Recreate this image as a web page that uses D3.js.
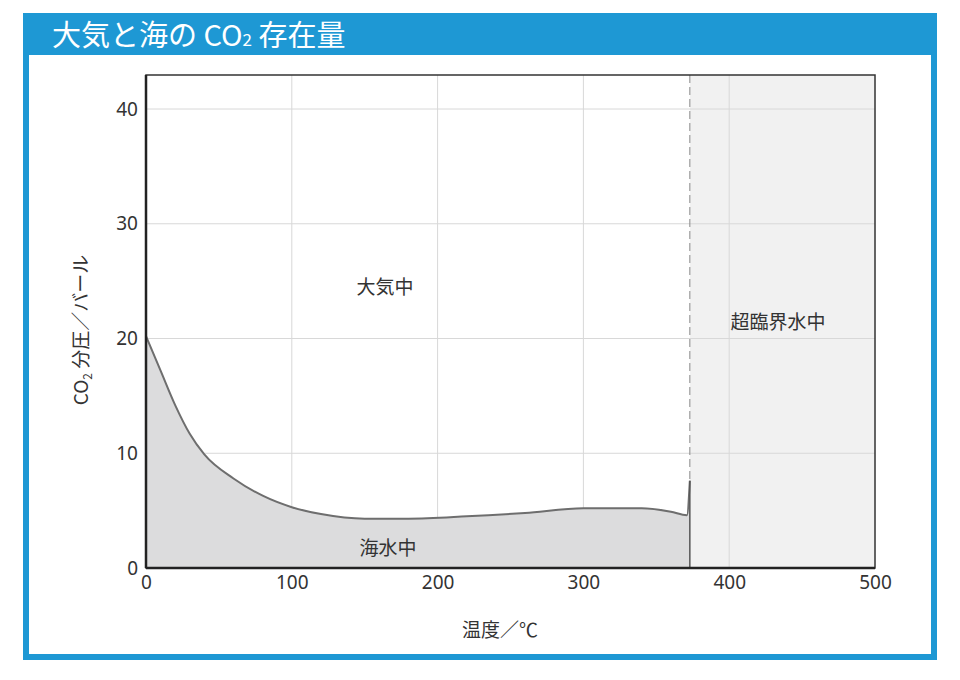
<!DOCTYPE html>
<html><head><meta charset="utf-8">
<script src="https://cdn.jsdelivr.net/npm/d3@7"></script>
<style>body{margin:0;background:#fff;font-family:"Noto Sans CJK JP","Noto Sans",sans-serif;}</style>
</head><body>
<script>
// temperature (°C) and CO2 partial pressure (bar) in seawater
const temps = [0, 10, 20, 30, 40, 60, 80, 100, 120, 150, 180, 220, 260, 300, 340, 360, 371, 373];
const pressures = [20.2, 17.2, 14.2, 11.7, 9.9, 7.8, 6.3, 5.3, 4.7, 4.3, 4.3, 4.5, 4.8, 5.2, 5.2, 4.9, 4.6, 7.6];
const xTicks = [0, 100, 200, 300, 400, 500];
const yTicks = [0, 10, 20, 30, 40];
const critical = 373;

const svg = d3.select('body').append('svg').attr('width', 960).attr('height', 680);

// blue frame with title band
svg.append('rect').attr('x', 23).attr('y', 13).attr('width', 914).attr('height', 647).attr('fill', '#1e98d4');
svg.append('rect').attr('x', 29).attr('y', 55).attr('width', 902).attr('height', 599).attr('fill', '#fff');
const title = svg.append('text').attr('x', 52).attr('y', 46).attr('fill', '#fff')
  .attr('font-size', 29).attr('font-family', '"Noto Sans CJK JP",sans-serif');
title.append('tspan').text('大気と海の CO');
title.append('tspan').attr('font-size', 17).text('2');
title.append('tspan').text(' 存在量');

const x = d3.scaleLinear().domain([0, 500]).range([146, 875]);
const y = d3.scaleLinear().domain([0, 40]).range([568, 109]);
const plotTop = 75;

svg.append('rect').attr('x', x(critical)).attr('y', plotTop).attr('width', x(500) - x(critical))
  .attr('height', y(0) - plotTop).attr('fill', '#f1f1f1');

// grid
svg.selectAll('.vg').data(xTicks.slice(1, -1)).enter().append('line')
  .attr('x1', d => x(d)).attr('x2', d => x(d)).attr('y1', plotTop).attr('y2', y(0))
  .attr('stroke', '#d8d8d8');
svg.selectAll('.hg').data(yTicks.slice(1)).enter().append('line')
  .attr('x1', x(0)).attr('x2', x(500)).attr('y1', d => y(d)).attr('y2', d => y(d))
  .attr('stroke', '#d8d8d8');

const pts = temps.map((t, i) => [t, pressures[i]]);
const area = d3.area().x(d => x(d[0])).y0(y(0)).y1(d => y(d[1])).curve(d3.curveMonotoneX);
svg.append('path').datum(pts).attr('d', area).attr('fill', '#dcdcdd');
const line = d3.line().x(d => x(d[0])).y(d => y(d[1])).curve(d3.curveMonotoneX);
svg.append('path').datum(pts).attr('d', line).attr('fill', 'none').attr('stroke', '#6e6e6e').attr('stroke-width', 2);
svg.append('line').attr('x1', x(critical)).attr('x2', x(critical)).attr('y1', y(pressures[pressures.length - 1]))
  .attr('y2', y(0)).attr('stroke', '#555').attr('stroke-width', 1.5);
svg.append('line').attr('x1', x(critical)).attr('x2', x(critical)).attr('y1', plotTop)
  .attr('y2', y(pressures[pressures.length - 1])).attr('stroke', '#888').attr('stroke-dasharray', '8,4');

// frame
svg.append('rect').attr('x', x(0)).attr('y', plotTop).attr('width', x(500) - x(0)).attr('height', y(0) - plotTop)
  .attr('fill', 'none').attr('stroke', '#333').attr('stroke-width', 1.5);
svg.append('line').attr('x1', x(0)).attr('x2', x(500)).attr('y1', y(0)).attr('y2', y(0)).attr('stroke', '#222').attr('stroke-width', 2.5);
svg.append('line').attr('x1', x(0)).attr('x2', x(0)).attr('y1', plotTop).attr('y2', y(0)).attr('stroke', '#222').attr('stroke-width', 2.5);

const xa = svg.append('g').attr('transform', `translate(0,${y(0)})`)
  .call(d3.axisBottom(x).tickValues(xTicks).tickSize(0).tickPadding(8));
xa.select('.domain').remove();
xa.selectAll('text').attr('font-size', 19).attr('fill', '#333').attr('font-family', '"Noto Sans",sans-serif');
const ya = svg.append('g').attr('transform', `translate(${x(0)},0)`)
  .call(d3.axisLeft(y).tickValues(yTicks).tickSize(0).tickPadding(8));
ya.select('.domain').remove();
ya.selectAll('text').attr('font-size', 19).attr('fill', '#333').attr('font-family', '"Noto Sans",sans-serif');

const lab = (t, px, py) => svg.append('text').attr('x', px).attr('y', py).attr('text-anchor', 'middle')
  .attr('font-size', 19).attr('fill', '#333').text(t);
lab('大気中', 385, 294);
lab('超臨界水中', 778, 329);
lab('海水中', 388, 555);
lab('温度／℃', 500, 637);
const yl = svg.append('text').attr('transform', 'translate(88,330) rotate(-90)').attr('text-anchor', 'middle')
  .attr('font-size', 19).attr('fill', '#333');
yl.append('tspan').text('CO');
yl.append('tspan').attr('font-size', 12).attr('dy', 4).text('2');
yl.append('tspan').attr('dy', -4).text(' 分圧／バール');
</script>
</body></html>
